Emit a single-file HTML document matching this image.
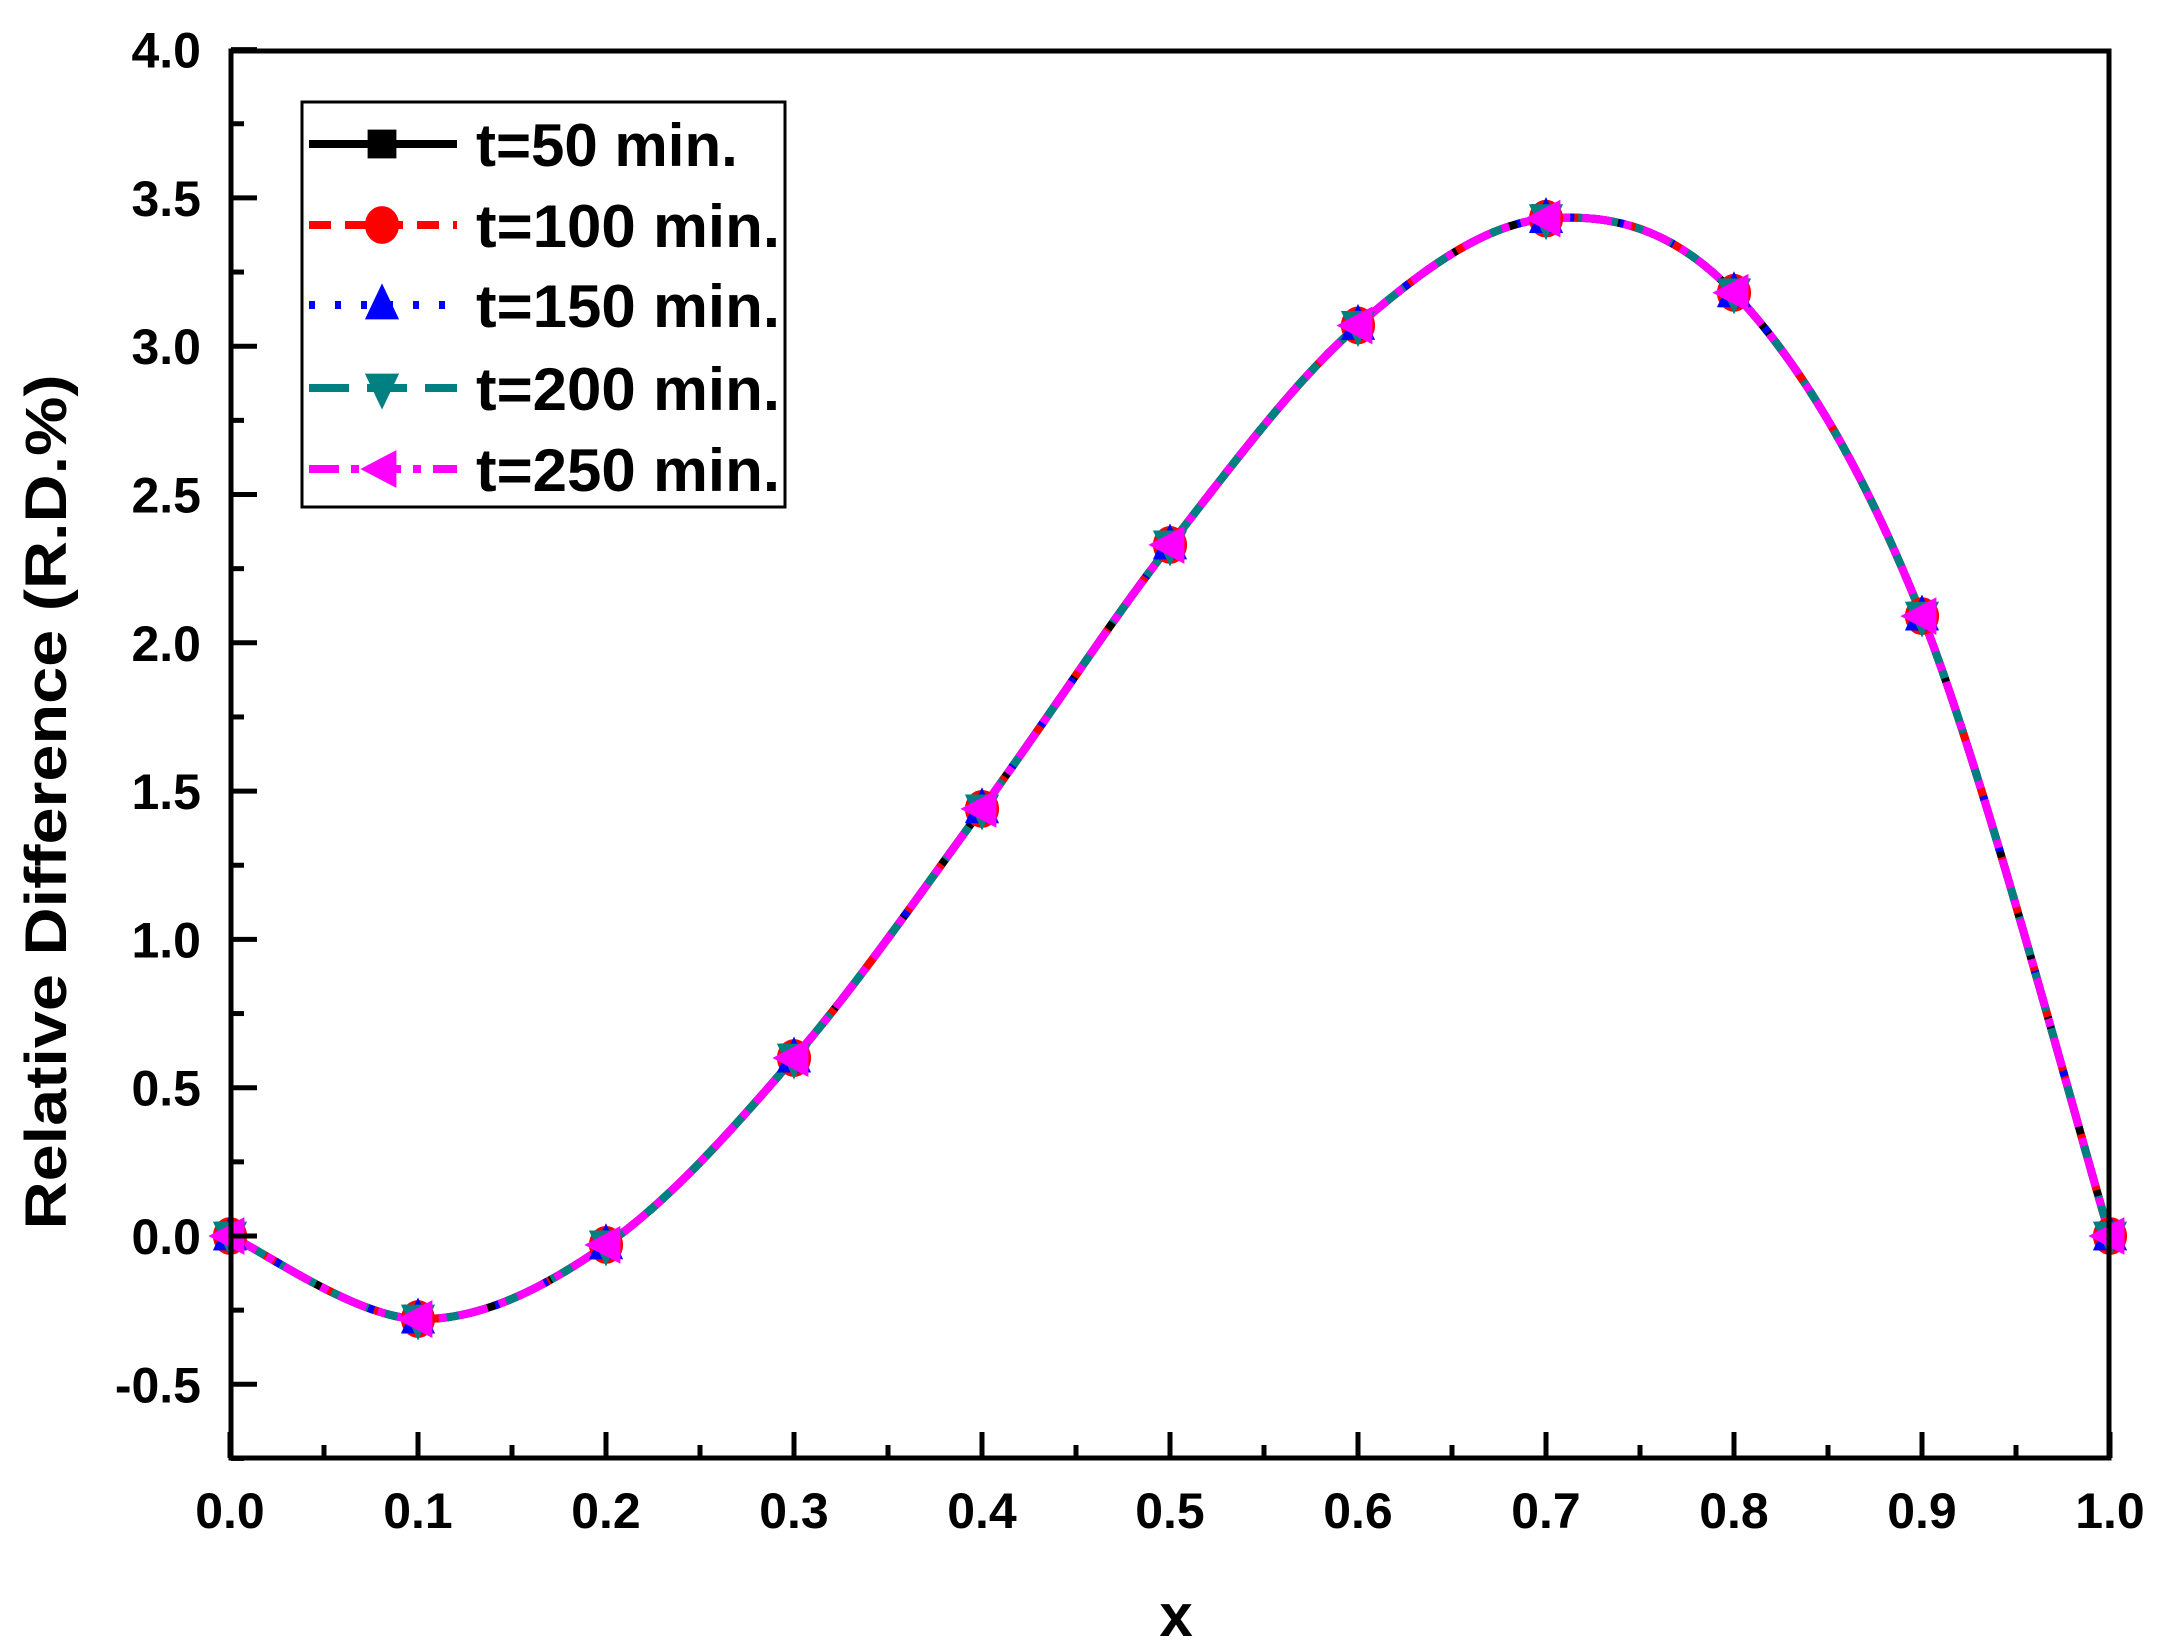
<!DOCTYPE html>
<html><head><meta charset="utf-8">
<style>html,body{margin:0;padding:0;background:#fff}svg{display:block}text{font-family:"Liberation Sans",Arial,sans-serif;font-weight:bold}</style>
</head><body>
<svg id="s" width="2168" height="1648" viewBox="0 0 2168 1648" xmlns="http://www.w3.org/2000/svg">
<rect width="2168" height="1648" fill="#fff"/>
<g id="curves"></g>
<g id="marks"></g>
<rect x="231" y="51" width="1878" height="1407" fill="none" stroke="#000" stroke-width="5"/>
<g id="ticks" stroke="#000" stroke-width="5"></g>
<g id="labels" font-size="50" fill="#000"></g>
<text x="1176" y="1636" font-size="60" text-anchor="middle">x</text>
<text transform="translate(66,802) rotate(-90)" font-size="58" text-anchor="middle" textLength="855" lengthAdjust="spacingAndGlyphs">Relative Difference (R.D.%)</text>
<rect x="302" y="102" width="483" height="405" fill="#fff" stroke="#000" stroke-width="3"/>
<g id="legend"></g>
</svg>
<script>
var NS="http://www.w3.org/2000/svg";
function el(p,t,a){var e=document.createElementNS(NS,t);for(var k in a)e.setAttribute(k,a[k]);p.appendChild(e);return e;}
function X(t){return 230+1880*t;}function Y(v){return 1236-296.6*v;}
var vals=[0,-0.28,-0.03,0.6,1.44,2.33,3.07,3.43,3.18,2.09,0];
var P=vals.map(function(v,i){return [X(i/10),Y(v)];});
var d="M"+P[0][0]+","+P[0][1];
for(var i=0;i<P.length-1;i++){var p0=P[Math.max(i-1,0)],p1=P[i],p2=P[i+1],p3=P[Math.min(i+2,P.length-1)];
d+=" C"+(p1[0]+(p2[0]-p0[0])/6)+","+(p1[1]+(p2[1]-p0[1])/6)+" "+(p2[0]-(p3[0]-p1[0])/6)+","+(p2[1]-(p3[1]-p1[1])/6)+" "+p2[0]+","+p2[1];}
var C=document.getElementById("curves");
var styles=[["#000",""],["#f00","22,14"],["#00f","6,20"],["#008080","40,18"],["#f0f","30,12,8,12"]];
styles.forEach(function(s){var a={d:d,fill:"none",stroke:s[0],"stroke-width":8};if(s[1])a["stroke-dasharray"]=s[1];el(C,"path",a);});
var M=document.getElementById("marks");
function marker(g,k,x,y,r){
 if(k==0)el(g,"rect",{x:x-r*0.8,y:y-r*0.8,width:r*1.6,height:r*1.6,fill:"#000"});
 else if(k==1)el(g,"ellipse",{cx:x,cy:y,rx:r*0.95,ry:r*1.05,fill:"#f00"});
 else if(k==2)el(g,"polygon",{points:(x)+","+(y-r*1.2)+" "+(x+r*0.95)+","+(y+r*0.8)+" "+(x-r*0.95)+","+(y+r*0.8),fill:"#00f"});
 else if(k==3)el(g,"polygon",{points:(x)+","+(y+r*1.2)+" "+(x+r*0.95)+","+(y-r*0.8)+" "+(x-r*0.95)+","+(y-r*0.8),fill:"#008080"});
 else el(g,"polygon",{points:(x-r*1.2)+","+(y)+" "+(x+r*0.8)+","+(y-r*1.05)+" "+(x+r*0.8)+","+(y+r*1.05),fill:"#f0f"});
}
for(var k=0;k<5;k++)P.forEach(function(p){marker(M,k,p[0],p[1],18);});
var T=document.getElementById("ticks"),L=document.getElementById("labels");
for(var i=0;i<=20;i++){var x=X(i/20),maj=i%2==0,len=maj?26:13;
 el(T,"line",{x1:x,y1:1458,x2:x,y2:1458-len});
 if(maj){var t=el(L,"text",{x:x,y:1528,"text-anchor":"middle"});t.textContent=(i/20).toFixed(1);}}
for(var j=-3;j<=16;j++){var v=j*0.25,y=Y(v),maj=j%2==0,len=maj?26:13;
 el(T,"line",{x1:231,y1:y,x2:231+len,y2:y});
 if(maj){var t=el(L,"text",{x:201,y:y+18,"text-anchor":"end"});t.textContent=v.toFixed(1);}}
var G=document.getElementById("legend");
var names=["t=50 min.","t=100 min.","t=150 min.","t=200 min.","t=250 min."];
var rows=[144,225,305,388,469];
styles.forEach(function(s,k){var y=rows[k];var a={x1:309,y1:y,x2:457,y2:y,stroke:s[0],"stroke-width":8};if(s[1])a["stroke-dasharray"]=s[1];el(G,"line",a);
 marker(G,k,382,y,18);
 var t=el(G,"text",{x:476,y:y+22,"font-size":"60",fill:"#000"});t.textContent=names[k];
 if(k>0){t.setAttribute("textLength","304");t.setAttribute("lengthAdjust","spacingAndGlyphs");}});
</script>
</body></html>
